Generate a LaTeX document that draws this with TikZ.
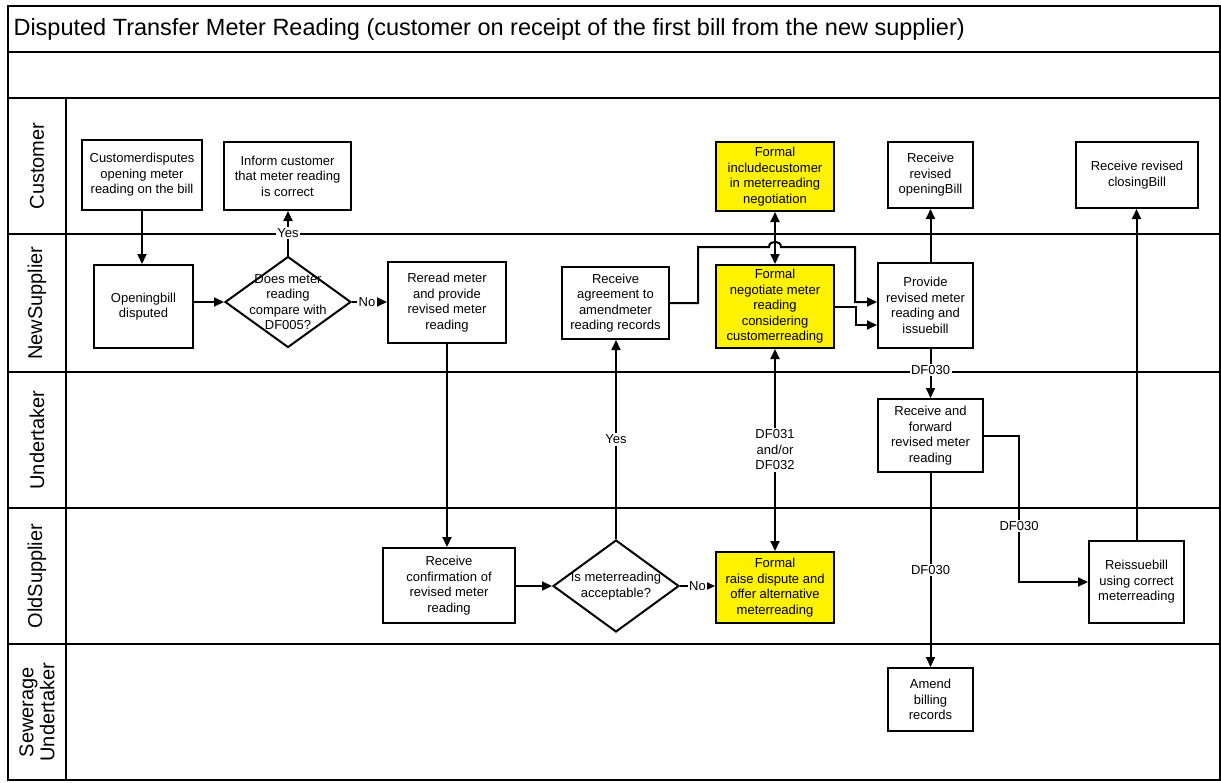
\documentclass[tikz,border=0pt]{standalone}
\usepackage{fontspec}
\setmainfont{Liberation Sans}
\usetikzlibrary{arrows.meta,shapes.geometric}

\begin{document}
\begin{tikzpicture}[x=1pt,y=-1pt,
  every node/.style={font=\fontsize{13}{15.5}\selectfont},
  box/.style={draw, line width=2pt, fill=white, align=center, inner sep=0pt},
  hot/.style={box, fill=yellow},
  dec/.style={draw, diamond, line width=2pt, fill=white, inner sep=0pt},
  dectext/.style={align=center, inner sep=0pt, font=\fontsize{13}{15.5}\selectfont},
  conn/.style={line width=2pt, -{Triangle[length=10pt,width=9pt]}},
  twoway/.style={line width=2pt, {Triangle[length=10pt,width=9pt]}-{Triangle[length=10pt,width=9pt]}},
  lbl/.style={fill=white, inner sep=1.5pt, align=center},
  lane/.style={rotate=90, align=center, font=\fontsize{20}{21}\selectfont},
  frame/.style={line width=2pt}
]
\useasboundingbox (0,0) rectangle (1221,782);

% swimlane frame
\draw[frame] (8,6) rectangle (1220,780);
\draw[frame] (8,52) -- (1220,52);
\draw[frame] (8,98) -- (1220,98);
\foreach \yy in {234,372,508,644} \draw[frame] (8,\yy) -- (1220,\yy);
\draw[frame] (66,98) -- (66,780);

\node[anchor=west, font=\fontsize{23.5}{26}\selectfont] (title) at (10,29)
  {Disputed Transfer Meter Reading (customer on receipt of the first bill from the new supplier)};

% lane names
\node[lane] (lcust) at (37,166) {Customer};
\node[lane] (lnew)  at (37,303) {NewSupplier};
\node[lane] (lund)  at (37,440) {Undertaker};
\node[lane] (lold)  at (37,576) {OldSupplier};
\node[lane] (lsew)  at (37,712) {Sewerage\\Undertaker};

% Customer lane
\node[box, minimum width=120pt, minimum height=70pt] (dispute) at (142,175)
  {Customerdisputes\\opening meter\\reading on the bill};
\node[box, minimum width=127pt, minimum height=68pt] (inform) at (287.5,176)
  {Inform customer\\that meter reading\\is correct};
\node[hot, minimum width=118pt, minimum height=69pt] (include) at (775,176.5)
  {Formal\\includecustomer\\in meterreading\\negotiation};
\node[box, minimum width=85pt, minimum height=66pt] (openrev) at (930.5,175)
  {Receive\\revised\\openingBill};
\node[box, minimum width=122pt, minimum height=66pt] (closerev) at (1137,175)
  {Receive revised\\closingBill};

% NewSupplier lane
\node[box, minimum width=99pt, minimum height=83pt] (openbill) at (143.5,306.5)
  {Openingbill\\disputed};
\node[dec, minimum width=126pt, minimum height=91pt,
  label={[dectext]center:{Does meter\\reading\\compare with\\DF005?}}] (d1) at (288,302) {};
\node[box, minimum width=118pt, minimum height=81pt] (reread) at (447,302.5)
  {Reread meter\\and provide\\revised meter\\reading};
\node[box, minimum width=107pt, minimum height=72pt] (agree) at (615.5,303)
  {Receive\\agreement to\\amendmeter\\reading records};
\node[hot, minimum width=118pt, minimum height=83pt] (negotiate) at (775,306.5)
  {Formal\\negotiate meter\\reading\\considering\\customerreading};
\node[box, minimum width=95pt, minimum height=85pt] (provide) at (925.5,305.5)
  {Provide\\revised meter\\reading and\\issuebill};

% Undertaker lane
\node[box, minimum width=105pt, minimum height=73pt] (forward) at (930.5,435.5)
  {Receive and\\forward\\revised meter\\reading};

% OldSupplier lane
\node[box, minimum width=132pt, minimum height=75pt] (confirm) at (449,585.5)
  {Receive\\confirmation of\\revised meter\\reading};
\node[dec, minimum width=126pt, minimum height=92pt,
  label={[dectext]center:{Is meterreading\\acceptable?}}] (d2) at (616,586) {};
\node[hot, minimum width=118pt, minimum height=71pt] (raise) at (775,587.5)
  {Formal\\raise dispute and\\offer alternative\\meterreading};
\node[box, minimum width=95pt, minimum height=82pt] (reissue) at (1136.5,582)
  {Reissuebill\\using correct\\meterreading};

% Sewerage Undertaker lane
\node[box, minimum width=85pt, minimum height=63pt] (amend) at (930.5,699.5)
  {Amend\\billing\\records};

% line hop over the two-way connector
\coordinate (hopL) at (769,247);
\coordinate (hopR) at (781,247);

% connectors
\draw[conn] (dispute.south) -- (dispute.south |- openbill.north);
\draw[conn] (openbill.east |- d1.west) -- (d1.west);
\draw[conn] (d1.north) -- node[lbl]{Yes} (d1.north |- inform.south);
\draw[conn] (d1.east) -- node[lbl,pos=0.43]{No} (d1.east -| reread.west);
\draw[conn] (reread.south) -- (reread.south |- confirm.north);
\draw[conn] (confirm.east |- d2.west) -- (d2.west);
\draw[conn] (d2.north) -- node[lbl]{Yes} (d2.north |- agree.south);
\draw[conn] (d2.east) -- node[lbl]{No} (d2.east -| raise.west);
\draw[twoway] (raise.north) -- node[lbl]{DF031\\and/or\\DF032} (negotiate.south);
\draw[twoway] (negotiate.north) -- (include.south);
\draw[conn] (agree.east) -- ++(28,0) |- (hopL)
  .. controls (769,240) and (781,240) .. (hopR)
  -- (855,247) |- ([yshift=3.5pt]provide.west);
\draw[conn] (negotiate.east) -- ++(21,0) |- ([yshift=-19.5pt]provide.west);
\draw[conn] (provide.north -| openrev.south) -- (openrev.south);
\draw[conn] (provide.south -| forward.north) -- node[lbl,pos=0.43]{DF030} (forward.north);
\draw[conn] (forward.east) -- ++(35,0) |- node[lbl,pos=0.31]{DF030} (reissue.west);
\draw[conn] (forward.south) -- node[lbl]{DF030} (amend.north);
\draw[conn] (reissue.north) -- (reissue.north |- closerev.south);
\end{tikzpicture}
\end{document}
